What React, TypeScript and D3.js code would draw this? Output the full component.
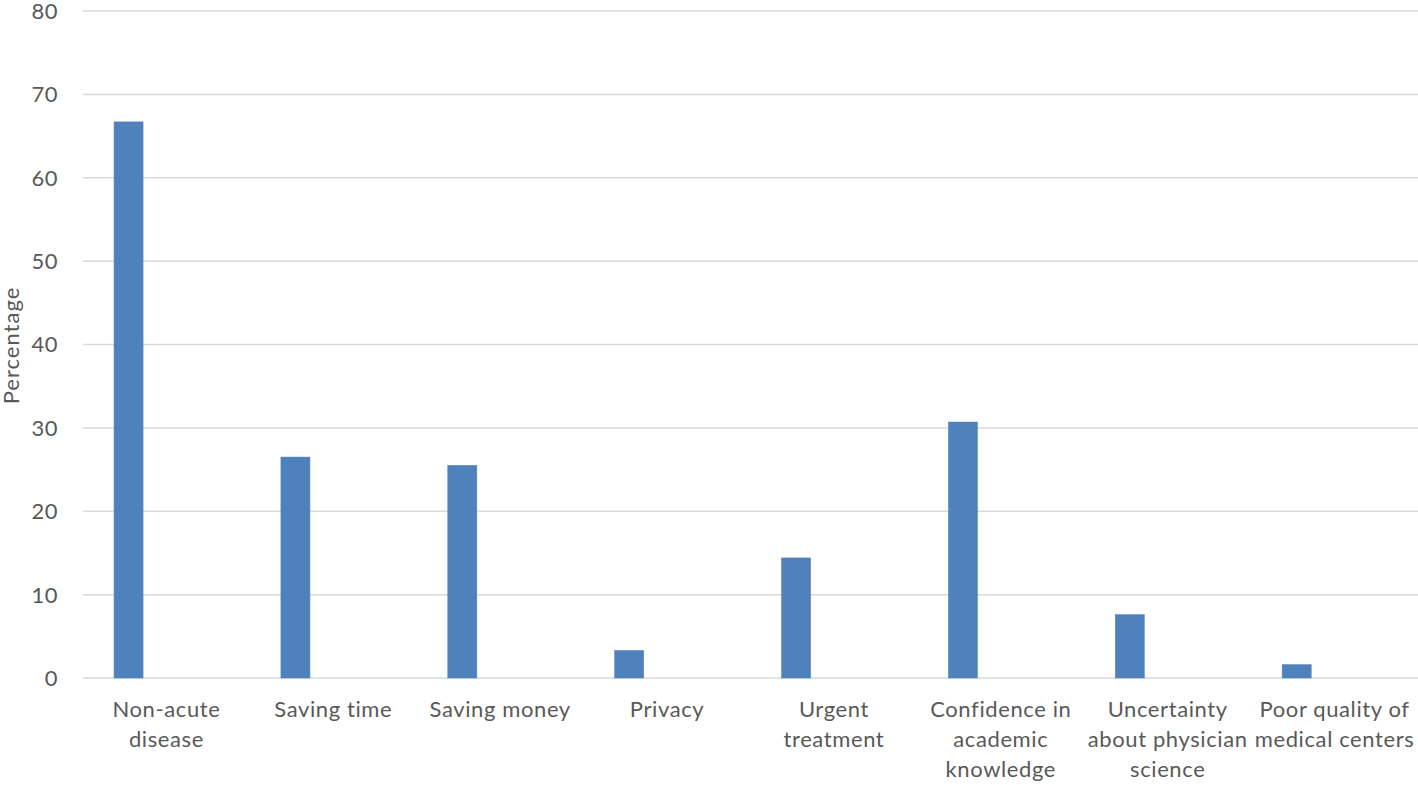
import { useEffect, useRef } from "react";
import * as d3 from "d3";

const categories = [
  "Non-acute disease",
  "Saving time",
  "Saving money",
  "Privacy",
  "Urgent treatment",
  "Confidence in academic knowledge",
  "Uncertainty about physician science",
  "Poor quality of medical centers",
];
// label lines as wrapped in the original
const labelLines = [
  ["Non-acute", "disease"],
  ["Saving time"],
  ["Saving money"],
  ["Privacy"],
  ["Urgent", "treatment"],
  ["Confidence in", "academic", "knowledge"],
  ["Uncertainty", "about physician", "science"],
  ["Poor quality of", "medical centers"],
];
const percentages = [66.7, 26.5, 25.5, 3.3, 14.4, 30.7, 7.6, 1.6];
const yTicks = [0, 10, 20, 30, 40, 50, 60, 70, 80];

const W = 1418;
const H = 785;
const FONT = "Lato, 'Open Sans', sans-serif";

export default function App() {
  const ref = useRef<SVGSVGElement>(null);

  useEffect(() => {
    const svg = d3.select(ref.current);
    svg.selectAll("*").remove();

    const margin = { top: 11, right: 0, bottom: 107, left: 83 };
    const width = W - margin.left - margin.right;
    const height = H - margin.top - margin.bottom;

    const g = svg.append("g").attr("transform", `translate(${margin.left},${margin.top})`);

    const x = d3.scaleBand().domain(categories).range([0, width]).padding(0);
    const y = d3.scaleLinear().domain([0, 80]).range([height, 0]);

    // gridlines
    g.append("g")
      .selectAll("line")
      .data(yTicks)
      .enter()
      .append("line")
      .attr("x1", 0)
      .attr("x2", width)
      .attr("y1", (d) => y(d))
      .attr("y2", (d) => y(d))
      .attr("stroke", "#d9d9d9")
      .attr("stroke-width", 1.5);

    // y tick labels
    g.append("g")
      .selectAll("text")
      .data(yTicks)
      .enter()
      .append("text")
      .attr("x", -25)
      .attr("y", (d) => y(d))
      .attr("dy", "0.36em")
      .attr("text-anchor", "end")
      .attr("font-family", FONT)
      .attr("font-size", 22)
      .attr("letter-spacing", 0.5)
      .attr("fill", "#595959")
      .text((d) => d);

    // bars sit in the left part of each category slot
    const bw = x.bandwidth();
    g.append("g")
      .selectAll("rect")
      .data(percentages)
      .enter()
      .append("rect")
      .attr("x", (d, i) => (x(categories[i]) ?? 0) + bw * 0.186)
      .attr("y", (d) => y(d))
      .attr("width", bw * 0.174)
      .attr("height", (d) => height - y(d))
      .attr("fill", "#4f81bd")
      .attr("stroke", "#4a7ebb")
      .attr("stroke-width", 0.5);

    // x labels
    const lab = g
      .append("g")
      .selectAll("text")
      .data(categories)
      .enter()
      .append("text")
      .attr("x", (d) => (x(d) ?? 0) + bw / 2)
      .attr("y", height + 39)
      .attr("text-anchor", "middle")
      .attr("font-family", FONT)
      .attr("font-size", 22)
      .attr("letter-spacing", 0.6)
      .attr("fill", "#595959");
    lab.each(function (d, i) {
      const t = d3.select(this);
      labelLines[i].forEach((line, j) => {
        t.append("tspan")
          .attr("x", (x(d) ?? 0) + bw / 2)
          .attr("dy", j === 0 ? 0 : 30)
          .text(line);
      });
    });

    // y axis title
    svg
      .append("text")
      .attr("transform", `translate(19,${margin.top + height / 2 + 1}) rotate(-90)`)
      .attr("text-anchor", "middle")
      .attr("font-family", FONT)
      .attr("font-size", 22)
      .attr("letter-spacing", 1)
      .attr("fill", "#595959")
      .text("Percentage");
  }, []);

  return (
    <svg
      ref={ref}
      width={W}
      height={H}
      style={{ position: "absolute", left: 0, top: 0, background: "#fff" }}
    ></svg>
  );
}
